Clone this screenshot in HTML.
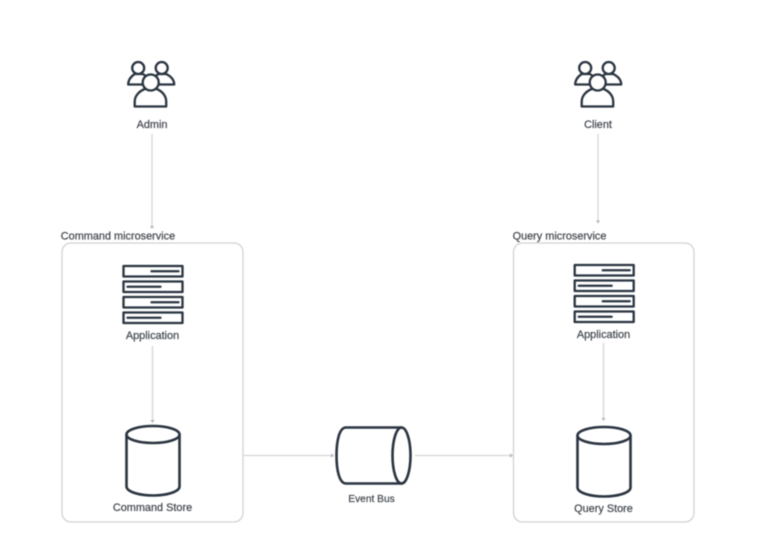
<!DOCTYPE html>
<html>
<head>
<meta charset="utf-8">
<style>
html,body{margin:0;padding:0;background:#fff;width:761px;height:545px;overflow:hidden}
svg{display:block;filter:blur(.55px)}
text{font-family:"Liberation Sans",sans-serif;font-size:10.9px;fill:#3f444b;stroke:#3f444b;stroke-width:.2;text-anchor:middle}
.c{fill:none;stroke:#d3d5d8;stroke-width:1.3}
.i{fill:#fff;stroke:#2a3440;stroke-width:2.3;stroke-linejoin:round;stroke-linecap:round}
.b{fill:#fff;stroke:#2a3440;stroke-width:2.6}
.a{fill:#b5b8bc}
</style>
</head>
<body>
<svg width="761" height="545" viewBox="0 0 761 545" xmlns="http://www.w3.org/2000/svg">
<defs>
<g id="people">
<path class="i" d="M-22.500 1 C-22.500 -4 -19 -7.500 -16 -9.500 H-8 C-4 -7.500 -1 -4 -1 1 H-22.500 Z"/>
<path class="i" d="M1 1 C1 -4 4 -7.500 8 -9.500 H15.500 C19.500 -7.500 23.500 -4 23.500 1 H1 Z"/>
<circle class="i" cx="-12.500" cy="-15.500" r="6"/>
<circle class="i" cx="11" cy="-15.500" r="6"/>
<path class="i" d="M-16 23 V18 C-16 12 -11 7.500 -6 5.500 H6 C11 7.500 15.500 12 15.500 18 V23 Z"/>
<circle class="i" cx="0" cy="-1" r="8"/>
</g>
<g id="server">
<rect class="i" x="0" y="0" width="59" height="10.500"/>
<rect class="i" x="0" y="15.500" width="59" height="10.500"/>
<rect class="i" x="0" y="31" width="59" height="10.500"/>
<rect class="i" x="0" y="46.500" width="59" height="10.500"/>
<path class="i" d="M28 5.250 h27 M4 20.750 h33 M28 36.250 h27 M4 51.750 h33"/>
</g>
<g id="cyl">
<path class="b" d="M0 9 V61 C0 66 12 70 26.500 70 S53 66 53 61 V9"/>
<ellipse class="b" cx="26.500" cy="9" rx="26.500" ry="8.500"/>
</g>
</defs>

<use href="#people" x="150.700" y="83.500"/>
<use href="#people" x="597.700" y="83.500"/>
<text x="152" y="128">Admin</text>
<text x="598" y="128">Client</text>

<path class="c" d="M152 134 V227"/>
<path class="a" d="M149.800 226 h4.400 l-2.200 3 z"/>
<path class="c" d="M598 134 V221"/>
<path class="a" d="M595.800 220.500 h4.400 l-2.200 3 z"/>

<text x="118" y="239.500">Command microservice</text>
<text x="559.500" y="239.500">Query microservice</text>

<rect x="62" y="243" width="181" height="279" rx="9" fill="#fff" stroke="#d0d2d5" stroke-width="1.300"/>
<rect x="513.500" y="243" width="180.500" height="279" rx="9" fill="#fff" stroke="#d0d2d5" stroke-width="1.300"/>

<use href="#server" x="123.500" y="266"/>
<use href="#server" x="574.700" y="265"/>
<text x="152.500" y="339">Application</text>
<text x="603.500" y="338">Application</text>

<path class="c" d="M152.500 346 V421"/>
<path class="a" d="M150.300 420 h4.400 l-2.200 3 z"/>
<path class="c" d="M603.500 343 V419"/>
<path class="a" d="M601.300 418 h4.400 l-2.200 3 z"/>

<use href="#cyl" x="126.500" y="425.500"/>
<use href="#cyl" x="577.500" y="426.500"/>
<text x="152.500" y="511">Command Store</text>
<text x="603.500" y="512">Query Store</text>

<path class="c" d="M243 455.500 H332"/>
<path class="a" d="M331 453.300 v4.400 l3 -2.200 z"/>
<path class="c" d="M415 455.500 H511"/>
<path class="a" d="M510 453.300 v4.400 l3 -2.200 z"/>

<path class="b" d="M402 427.500 H346 C339 427.500 336.500 442 336.500 455.500 S339 483.500 346 483.500 H402"/>
<ellipse class="b" cx="401.500" cy="455.500" rx="9" ry="28"/>
<text x="371.500" y="502" style="font-size:10.200px">Event Bus</text>
</svg>
</body>
</html>
